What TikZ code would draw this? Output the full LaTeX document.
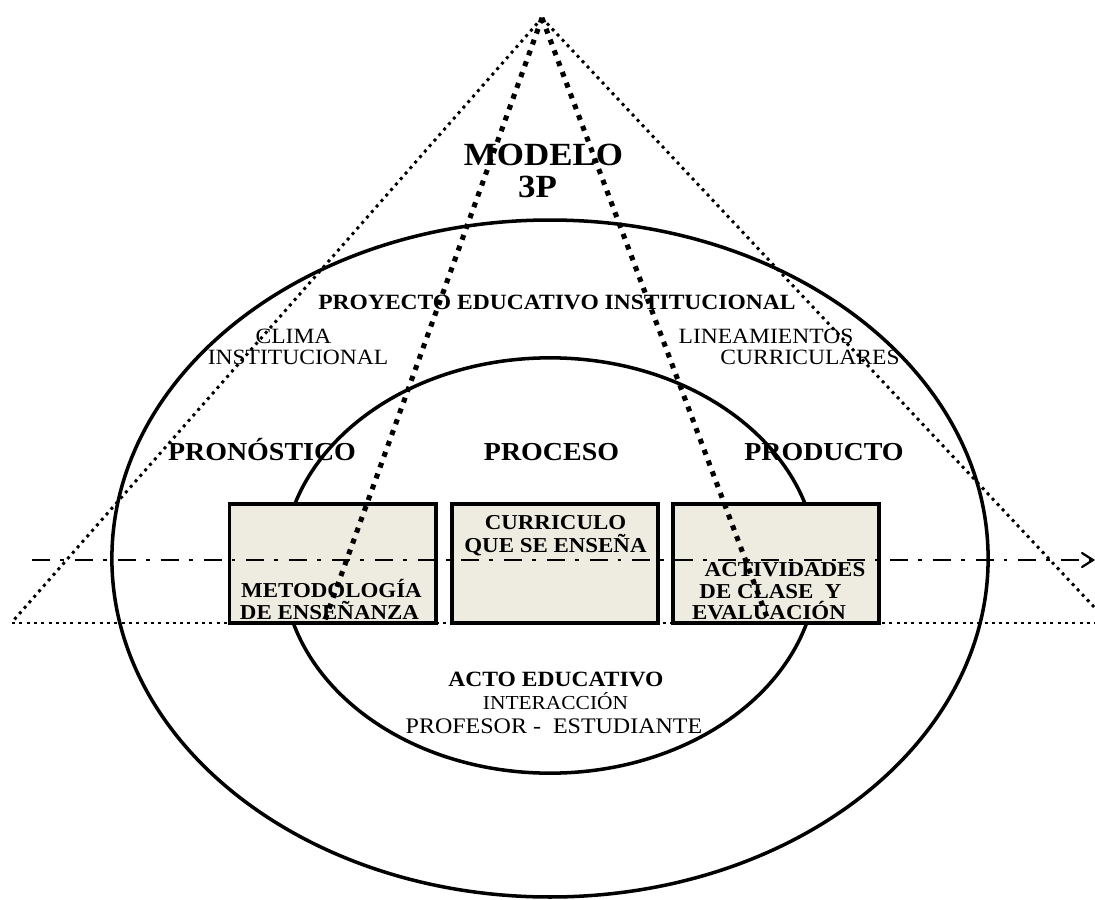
\documentclass[tikz,border=0pt]{standalone}
\usepackage{fontspec}
\setmainfont{Liberation Serif}[FakeStretch=1.08]
\usetikzlibrary{arrows.meta}
\definecolor{boxfill}{RGB}{238,235,224}
\begin{document}
\begin{tikzpicture}[x=0.025cm,y=-0.025cm,
  ring/.style={line width=2.5pt},
  boxst/.style={draw, line width=2.8pt, fill=boxfill, inner sep=0pt, outer sep=0pt,
    minimum width=5.15cm, minimum height=2.975cm},
  thindot/.style={line width=2.1pt, dash pattern=on 2.1pt off 3.1pt},
  thickdot/.style={line width=3.6pt, dash pattern=on 3.6pt off 4.6pt},
  axisline/.style={line width=2pt, dash pattern=on 12.8pt off 7.1pt on 2.8pt off 7.8pt},
  lbl/.style={anchor=base, inner sep=0pt, outer sep=0pt},
  tbig/.style={lbl, font=\fontsize{23}{26}\selectfont\bfseries},
  thead/.style={lbl, font=\fontsize{18.4}{21}\selectfont\bfseries},
  tbold/.style={lbl, font=\fontsize{15.5}{18}\selectfont\bfseries},
  tbox/.style={lbl, font=\fontsize{15.1}{18}\selectfont\bfseries},
  treg/.style={lbl, font=\fontsize{15.5}{18}\selectfont},
]
\useasboundingbox (0,0) rectangle (1095,899);

% ellipses
\draw[ring] (550,558.5) ellipse [x radius=10.95cm, y radius=8.46cm];
\draw[ring] (550,565.5) ellipse [x radius=6.675cm, y radius=5.19cm];

% boxes
\node[boxst] (b1) at (332.5,563.5) {};
\node[boxst] (b2) at (555,563.5) {};
\node[boxst] (b3) at (776,563.5) {};

% pyramid lines
\coordinate (apex) at (542,18);
\coordinate (leftfoot) at (13,621);
\coordinate (rightfoot) at (1095,608);
\coordinate (innerleft) at (325,620);
\coordinate (innerright) at (768,620);
\coordinate (baseL) at (12,623);
\coordinate (baseR) at (1095,623);
\coordinate (axisL) at (32,560);
\coordinate (axisR) at (1093,560);

\draw[thindot] (apex) -- (leftfoot);
\draw[thindot] (apex) -- (rightfoot);
\draw[thickdot] (apex) -- (innerleft);
\draw[thickdot] (apex) -- (innerright);
\draw[thindot] (baseL) -- (baseR);
\draw[axisline] (axisL) -- (axisR);
\draw[line width=1.6pt, line cap=round] (1082,553) -- (axisR) -- (1082,567);

% texts
\node[tbig] (modelo) at (543.5,166) {MODELO};
\node[tbig] (tresp) at (537.5,198) {3P};
\node[tbold] (pei) at (557,309) {PROYECTO EDUCATIVO INSTITUCIONAL};
\node[treg] (clima) at (293.5,343) {CLIMA};
\node[treg] (inst) at (298,364) {INSTITUCIONAL};
\node[treg] (linea) at (766,343) {LINEAMIENTOS};
\node[treg] (curr) at (810,364) {CURRICULARES};
\node[thead] (pron) at (262,460) {PRONÓSTICO};
\node[thead] (proc) at (551.5,460) {PROCESO};
\node[thead] (prod) at (824,460) {PRODUCTO};
\node[tbox] (c1) at (555.5,529) {CURRICULO};
\node[tbox] (c2) at (555.5,552) {QUE SE ENSEÑA};
\node[tbox] (m1) at (331.5,597) {METODOLOGÍA};
\node[tbox] (m2) at (329.5,619) {DE ENSEÑANZA};
\node[tbox] (a1) at (785,576) {ACTIVIDADES};
\node[tbox] (a2) at (770.5,598) {DE CLASE \ Y};
\node[tbox] (a3) at (769,619) {EVALUACIÓN};
\node[tbold] (acto) at (556,686) {ACTO EDUCATIVO};
\node[lbl, font=\fontsize{14.1}{17}\selectfont] (inter) at (555.5,709) {INTERACCIÓN};
\node[lbl, font=\fontsize{15.8}{18}\selectfont] (prof) at (554,733) {PROFESOR - \ ESTUDIANTE};
\end{tikzpicture}
\end{document}
